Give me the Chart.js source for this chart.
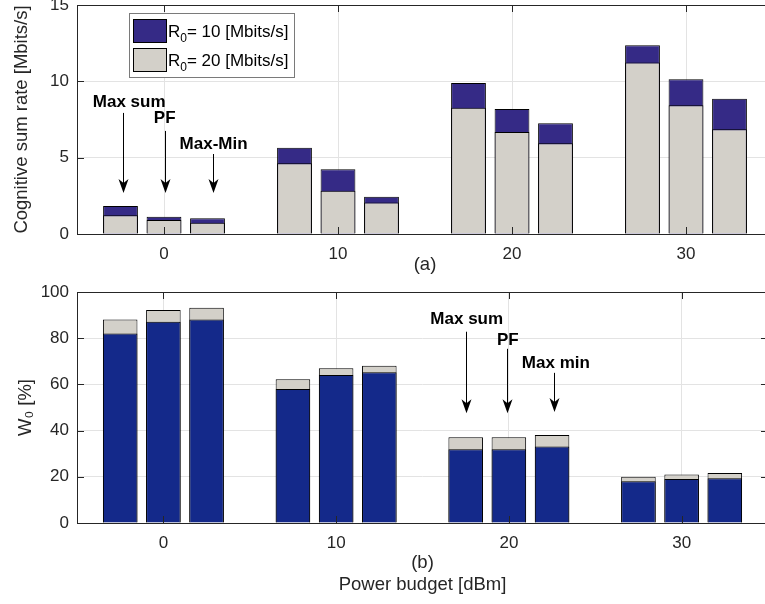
<!DOCTYPE html>
<html>
<head>
<meta charset="utf-8">
<script src="https://cdn.jsdelivr.net/npm/chart.js@4.4.1/dist/chart.umd.min.js"></script>
<style>
  body { margin: 0; width: 765px; height: 604px; overflow: hidden; background: #fff; }
  #top-box { position: absolute; left: 0; top: 0; width: 773px; height: 280px; }
  #bottom-box { position: absolute; left: 0; top: 280px; width: 768px; height: 324px; }
</style>
</head>
<body>
<div id="top-box"><canvas id="rate-chart"></canvas></div>
<div id="bottom-box"><canvas id="w0-chart"></canvas></div>
<script>
// power budget groups, three schemes per group (Max sum, PF, Max-Min)
const powerBudgets = [0, 10, 20, 30];
const schemeOffsets = [-2.5, 0, 2.5];

// (a) cognitive sum rate [Mbits/s]
const rateR10 = [1.83, 1.13, 1.03, 5.65, 4.24, 2.44, 9.89, 8.19, 7.25, 12.36, 10.13, 8.86];
const rateR20 = [1.22, 0.92, 0.74, 4.63, 2.84, 2.07, 8.27, 6.68, 5.94, 11.24, 8.43, 6.86];

// (b) W0 [%]
const w0R10 = [82.0, 87.1, 88.1, 58.0, 64.1, 65.3, 31.9, 31.9, 33.1, 18.1, 19.0, 19.4];
const w0R20 = [88.1, 92.2, 93.2, 62.2, 67.0, 68.1, 37.1, 37.1, 38.1, 20.0, 21.0, 21.6];

const rateTicks = [0, 5, 10, 15];
const w0Ticks = [0, 20, 40, 60, 80, 100];

const purple = "#352a86";
const lightGrey = "#d3d0c9";
const navy = "#14298a";
const inkColor = "#262626";
const gridColor = "#e3e3e3";
const fontFamily = "'Liberation Sans', Arial, Helvetica, sans-serif";

function xPositions() {
  const xs = [];
  powerBudgets.forEach(p => schemeOffsets.forEach(o => xs.push(p + o)));
  return xs;
}

function toPoints(values) {
  const xs = xPositions();
  return values.map((v, i) => ({ x: xs[i], y: v }));
}

// inward ticks + box around the plot, matlab style
const boxPlugin = {
  id: "box",
  afterDatasetsDraw(chart) {
    const { ctx, chartArea: a, scales } = chart;
    ctx.save();
    ctx.strokeStyle = inkColor;
    ctx.lineWidth = 1;
    ctx.beginPath();
    scales.x.ticks.forEach(t => {
      const px = Math.round(scales.x.getPixelForValue(t.value)) + 0.5;
      ctx.moveTo(px, a.bottom); ctx.lineTo(px, a.bottom - 7);
      ctx.moveTo(px, a.top); ctx.lineTo(px, a.top + 7);
    });
    scales.y.ticks.forEach(t => {
      const py = Math.round(scales.y.getPixelForValue(t.value)) + 0.5;
      ctx.moveTo(a.left, py); ctx.lineTo(a.left + 7, py);
      ctx.moveTo(a.right, py); ctx.lineTo(a.right - 7, py);
    });
    ctx.stroke();
    ctx.strokeRect(Math.round(a.left) + 0.5, Math.round(a.top) + 0.5,
      Math.round(a.right - a.left), Math.round(a.bottom - a.top));
    ctx.restore();
  }
};

// text + arrow annotations, given in data units
function arrowPlugin(id, notes) {
  return {
    id: id,
    afterDatasetsDraw(chart) {
      const { ctx, scales } = chart;
      ctx.save();
      ctx.fillStyle = "#000";
      ctx.strokeStyle = "#000";
      ctx.lineWidth = 1;
      ctx.font = "bold 17px " + fontFamily;
      ctx.textAlign = "center";
      ctx.textBaseline = "middle";
      notes.forEach(n => {
        const tx = scales.x.getPixelForValue(n.textX);
        const ty = scales.y.getPixelForValue(n.textY);
        const ax = Math.round(scales.x.getPixelForValue(n.arrowX)) + 0.5;
        const y0 = scales.y.getPixelForValue(n.fromY);
        const y1 = scales.y.getPixelForValue(n.toY);
        ctx.fillText(n.label, tx, ty);
        ctx.beginPath();
        ctx.moveTo(ax, y0);
        ctx.lineTo(ax, y1 - 6);
        ctx.stroke();
        ctx.beginPath();
        ctx.moveTo(ax, y1);
        ctx.lineTo(ax - 5, y1 - 14);
        ctx.lineTo(ax, y1 - 10);
        ctx.lineTo(ax + 5, y1 - 14);
        ctx.closePath();
        ctx.fill();
      });
      ctx.restore();
    }
  };
}

const legendPlugin = {
  id: "legendBox",
  afterDraw(chart) {
    const { ctx, chartArea: a } = chart;
    const x = a.left + 52, y = a.top + 8;
    ctx.save();
    ctx.fillStyle = "#fff";
    ctx.fillRect(x, y, 165, 64);
    ctx.strokeStyle = "#7a7a7a";
    ctx.lineWidth = 1;
    ctx.strokeRect(x + 0.5, y + 0.5, 165, 64);
    const entries = [
      { color: purple, value: "10" },
      { color: lightGrey, value: "20" }
    ];
    entries.forEach((e, i) => {
      const sy = y + 6 + i * 29;
      ctx.fillStyle = e.color;
      ctx.fillRect(x + 4, sy, 33, 23);
      ctx.strokeStyle = "#000";
      ctx.strokeRect(x + 4.5, sy + 0.5, 33, 23);
      ctx.fillStyle = "#000";
      ctx.textBaseline = "alphabetic";
      ctx.textAlign = "left";
      ctx.font = "17px " + fontFamily;
      const base = sy + 18;
      ctx.fillText("R", x + 39, base);
      const rw = ctx.measureText("R").width;
      ctx.font = "12px " + fontFamily;
      ctx.fillText("0", x + 39 + rw, base + 5);
      const zw = ctx.measureText("0").width;
      ctx.font = "17px " + fontFamily;
      ctx.fillText("= " + e.value + " [Mbits/s]", x + 39 + rw + zw, base);
    });
    ctx.restore();
  }
};

function makeChart(canvasId, opts) {
  const ctx = document.getElementById(canvasId).getContext("2d");
  return new Chart(ctx, {
    type: "bar",
    data: {
      datasets: [
        {
          label: opts.frontLabel,
          data: toPoints(opts.front),
          backgroundColor: opts.frontColor,
          borderColor: "#000",
          borderWidth: 1,
          order: 1
        },
        {
          label: opts.backLabel,
          data: toPoints(opts.back),
          backgroundColor: opts.backColor,
          borderColor: "#000",
          borderWidth: 1,
          order: 2
        }
      ]
    },
    options: {
      responsive: true,
      maintainAspectRatio: false,
      animation: false,
      layout: { padding: { top: opts.padTop, right: 0, bottom: opts.padBottom, left: 0 } },
      datasets: { bar: { grouped: false, categoryPercentage: 1, barPercentage: 0.8 } },
      plugins: { legend: { display: false }, tooltip: { enabled: false } },
      scales: {
        x: {
          type: "linear",
          min: -5,
          max: 35,
          offset: false,
          afterBuildTicks: s => { s.ticks = powerBudgets.map(v => ({ value: v })); },
          afterFit: s => { s.height = opts.xHeight; s.paddingLeft = 0; s.paddingRight = 0; },
          grid: { color: gridColor, drawTicks: false, offset: false },
          border: { display: false },
          ticks: { color: inkColor, padding: 10, maxRotation: 0, font: { family: fontFamily, size: 17 } },
          title: {
            display: true,
            text: opts.xTitle,
            color: inkColor,
            padding: { top: 0, bottom: 4 },
            font: { family: fontFamily, size: 18.5, lineHeight: 1.2 }
          }
        },
        y: {
          min: 0,
          max: opts.yMax,
          afterBuildTicks: s => { s.ticks = opts.yTicks.map(v => ({ value: v })); },
          afterFit: s => { s.width = 77; s.paddingTop = 0; s.paddingBottom = 0; },
          grid: { color: gridColor, drawTicks: false },
          border: { display: false },
          ticks: { color: inkColor, padding: 8, font: { family: fontFamily, size: 17 } },
          title: {
            display: true,
            text: opts.yTitle,
            color: inkColor,
            padding: { top: opts.yTitlePad, bottom: 0 },
            font: { family: fontFamily, size: 18.5, lineHeight: 1.2 }
          }
        }
      }
    },
    plugins: opts.plugins
  });
}

makeChart("rate-chart", {
  front: rateR20, frontColor: lightGrey, frontLabel: "R0= 20 [Mbits/s]",
  back: rateR10, backColor: purple, backLabel: "R0= 10 [Mbits/s]",
  yMax: 15, yTicks: rateTicks,
  yTitle: "Cognitive sum rate [Mbits/s]", yTitlePad: 11,
  xTitle: "(a)", xHeight: 46,
  padTop: 5, padBottom: 0,
  plugins: [boxPlugin, legendPlugin, arrowPlugin("rateArrows", [
    { label: "Max sum", textX: -2.0, textY: 8.65, arrowX: -2.37, fromY: 7.93, toY: 2.68 },
    { label: "PF", textX: 0.04, textY: 7.55, arrowX: 0.04, fromY: 6.75, toY: 2.68 },
    { label: "Max-Min", textX: 2.85, textY: 5.9, arrowX: 2.8, fromY: 5.24, toY: 2.68 }
  ])]
});

makeChart("w0-chart", {
  front: w0R10, frontColor: navy, frontLabel: "R0= 10 [Mbits/s]",
  back: w0R20, backColor: lightGrey, backLabel: "R0= 20 [Mbits/s]",
  yMax: 100, yTicks: w0Ticks,
  yTitle: "W\u2080 [%]", yTitlePad: 15,
  xTitle: ["(b)", "Power budget [dBm]"], xHeight: 77,
  padTop: 12, padBottom: 4,
  plugins: [boxPlugin, arrowPlugin("w0Arrows", [
    { label: "Max sum", textX: 17.56, textY: 88.0, arrowX: 17.5, fromY: 82.8, toY: 47.5 },
    { label: "PF", textX: 19.94, textY: 79.3, arrowX: 19.88, fromY: 75.4, toY: 47.5 },
    { label: "Max min", textX: 22.72, textY: 69.1, arrowX: 22.6, fromY: 65.0, toY: 48.0 }
  ])]
});
</script>
</body>
</html>
